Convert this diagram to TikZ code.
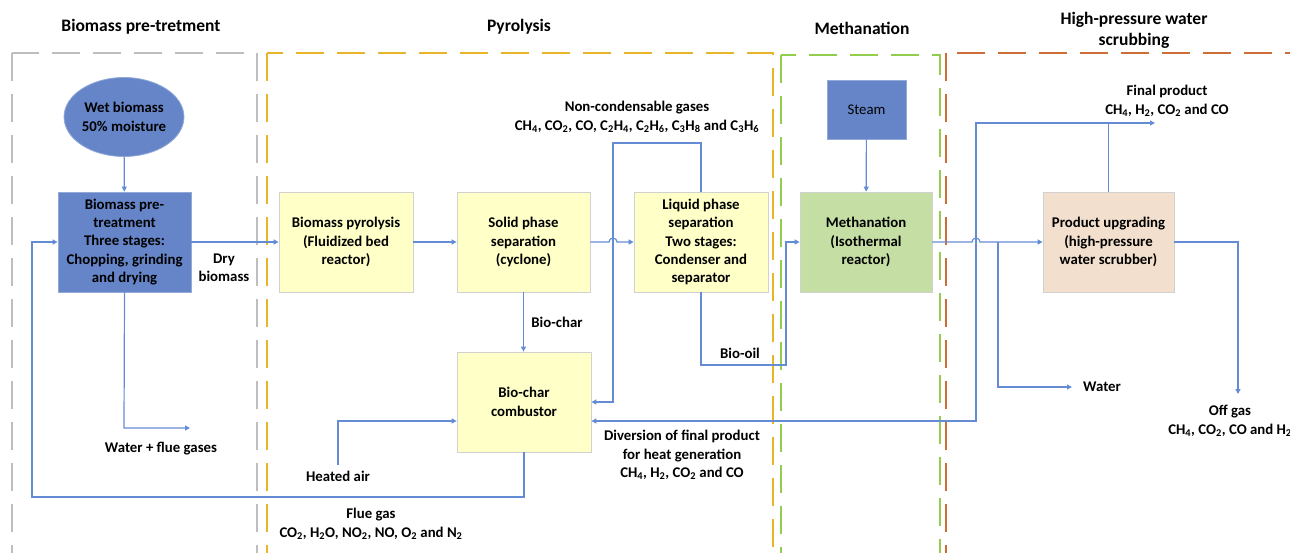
\documentclass[tikz,border=0pt]{standalone}
\usepackage{fontspec}
\setmainfont{Carlito}
\usetikzlibrary{arrows.meta,calc,shapes.geometric}
\definecolor{lineblue}{RGB}{100,140,212}
\definecolor{boxblue}{RGB}{101,133,200}
\definecolor{boxyellow}{RGB}{255,255,200}
\definecolor{boxgreen}{RGB}{196,222,164}
\definecolor{boxpeach}{RGB}{242,223,205}
\definecolor{regGray}{RGB}{190,190,190}
\definecolor{regYellow}{RGB}{232,180,40}
\definecolor{regGreen}{RGB}{146,205,80}
\definecolor{regOrange}{RGB}{206,110,55}
\newcommand{\ssub}[1]{\textsubscript{#1}}
\begin{document}
\begin{tikzpicture}[x=1pt,y=-1pt,
 font=\bfseries\fontsize{14.8}{18.3}\selectfont,
 region/.style={line width=2pt, dash pattern=on 28pt off 13pt},
 proc/.style={rectangle, draw=black!18, line width=0.8pt, minimum width=134pt, minimum height=100pt, align=center, inner sep=1pt},
 flow/.style={draw=lineblue, line width=1.2pt, -{Triangle[length=5pt,width=5pt]}},
 lbl/.style={align=center, inner sep=0pt},
 title/.style={font=\bfseries\fontsize{17.5}{21}\selectfont, align=center, inner sep=0pt}
]
\useasboundingbox (0,0) rectangle (1290,552);
% regions
\draw[region,regGray] (12,53) rectangle (257,580);
\draw[region,regYellow] (267,53) rectangle (773,580);
\draw[region,regGreen] (781,55) rectangle (940,580);
\draw[region,regOrange] (946,53) rectangle (1320,580);
% titles
\node[title] (t1) at (141,27) {Biomass pre-tretment};
\node[title] (t2) at (519,27) {Pyrolysis};
\node[title] (t3) at (862,28) {Methanation};
\node[title] (t4) at (1134,30) {High-pressure water\\scrubbing};
% nodes
\node[ellipse, fill=boxblue, draw=boxblue!70!white, line width=0.8pt, minimum width=120pt, minimum height=79pt, inner sep=0pt, align=center] (wet) at (124,117) {Wet biomass\\50\% moisture};
\node[proc, fill=boxblue, draw=boxblue!70!white, minimum width=133pt] (pre) at (124.5,242) {Biomass pre-\\treatment\\Three stages:\\Chopping, grinding\\and drying};
\node[proc, fill=boxyellow] (pyr) at (346,242) {Biomass pyrolysis\\(Fluidized bed\\reactor)};
\node[proc, fill=boxyellow, minimum width=133pt] (sol) at (523.5,242) {Solid phase\\separation\\(cyclone)};
\node[proc, fill=boxyellow] (liq) at (701,242) {Liquid phase\\separation\\Two stages:\\Condenser and\\separator};
\node[proc, fill=boxblue, draw=boxblue!70!white, minimum width=79pt, minimum height=59pt, font=\mdseries\fontsize{14.8}{18}\selectfont] (steam) at (866.5,109.5) {Steam};
\node[proc, fill=boxgreen, minimum width=132pt] (meth) at (866,242) {Methanation\\(Isothermal\\reactor)};
\node[proc, fill=boxpeach, minimum width=131pt] (upg) at (1108.5,242) {Product upgrading\\(high-pressure\\water scrubber)};
\node[proc, fill=boxyellow] (comb) at (524,402) {Bio-char\\combustor};
% labels
\node[lbl] (dry) at (224,268) {Dry\\biomass};
\node[lbl] (ncg) at (637,117) {Non-condensable gases\\CH\ssub{4}, CO\ssub{2}, CO, C\ssub{2}H\ssub{4}, C\ssub{2}H\ssub{6}, C\ssub{3}H\ssub{8} and C\ssub{3}H\ssub{6}};
\node[lbl] (bchar) at (557,322) {Bio-char};
\node[lbl] (boil) at (740,353) {Bio-oil};
\node[lbl] (wfg) at (161,449) {Water + flue gases};
\node[lbl] (hair) at (338,476) {Heated air};
\node[lbl] (flue) at (371,524) {Flue gas\\CO\ssub{2}, H\ssub{2}O, NO\ssub{2}, NO, O\ssub{2} and N\ssub{2}};
\node[lbl] (div) at (682,455) {Diversion of final product\\for heat generation\\CH\ssub{4}, H\ssub{2}, CO\ssub{2} and CO};
\node[lbl] (fprod) at (1167,101) {Final product\\CH\ssub{4}, H\ssub{2}, CO\ssub{2} and CO};
\node[lbl] (offg) at (1230,421) {Off gas\\CH\ssub{4}, CO\ssub{2}, CO and H\ssub{2}};
\node[lbl, anchor=west, inner xsep=11pt] (water) at (1072,387) {Water};
% coordinates
\coordinate (ncTL) at (613,143);
\coordinate (boB) at (786,365);
\coordinate (fpJ) at (976,123);
\coordinate (fpEnd) at (1155,123);
\coordinate (divC) at (976,421);
\coordinate (wB) at (998,387);
\coordinate (ogC) at (1238,242);
\coordinate (ogEnd) at (1238,394);
\coordinate (fgL) at (32,497);
\coordinate (haB) at (338,465);
\coordinate (haT) at (338,421);
\coordinate (wfC) at (124,428);
\coordinate (wfEnd) at (190,428);
% connectors
\draw[flow] (wet) -- (pre);
\draw[flow] (pre) -- (pyr);
\draw[flow] (pyr) -- (sol);
\draw[flow] (sol.east) -- ([xshift=-4pt]sol.east -| ncTL) arc[start angle=180,end angle=0,radius=4pt] -- (liq.west);
\draw[flow] (liq.north) -- (liq.north |- ncTL) -- (ncTL) -- (ncTL |- comb.east) -- (comb.east);
\draw[flow] (sol.south) -- (sol.south |- comb.north);
\draw[flow] (liq.south) -- (liq.south |- boB) -- (boB) -- (boB |- meth.west) -- (meth.west);
\draw[flow] (steam) -- (meth);
\draw[flow] (meth.east) -- ([xshift=-4pt]meth.east -| fpJ) arc[start angle=180,end angle=0,radius=4pt] -- (upg.west);
\draw[flow] (wB |- meth.east) -- (wB) -- (water.west);
\draw[flow] (upg.north) -- (upg.north |- fpEnd) -- (fpEnd);
\draw[flow] (upg.north |- fpJ) -- (fpJ) -- (divC) -- (divC -| comb.east);
\draw[flow] (upg.east) -- (ogC) -- (ogEnd);
\draw[flow] (comb.south) -- (comb.south |- fgL) -- (fgL) -- (fgL |- pre.west) -- (pre.west);
\draw[flow] (haB) -- (haT) -- (haT -| comb.west);
\draw[flow] (pre.south) -- (wfC) -- (wfEnd);
\end{tikzpicture}
\end{document}
